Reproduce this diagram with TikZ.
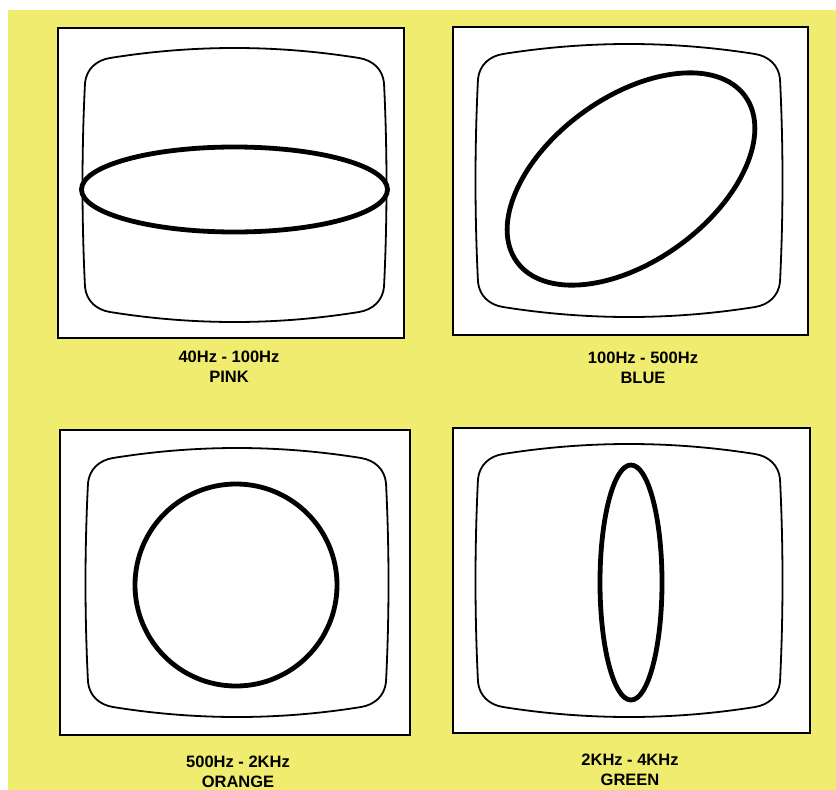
\documentclass[tikz,border=0pt]{standalone}
\usepackage{fontspec}
\setmainfont{Liberation Sans}
\definecolor{bgyellow}{RGB}{239,236,112}
\newcommand\crtscreen[4]{%
  \pgfmathsetmacro\Xl{#1-#3}\pgfmathsetmacro\Xr{#1+#3}%
  \pgfmathsetmacro\Yt{#2-#4}\pgfmathsetmacro\Yb{#2+#4}%
  \pgfmathsetmacro\bx{5}\pgfmathsetmacro\by{10}\pgfmathsetmacro\rr{25}\pgfmathsetmacro\kk{0.55*25}%
  \pgfmathsetmacro\xa{\Xl+\bx+\rr}\pgfmathsetmacro\xb{\Xr-\bx-\rr}%
  \pgfmathsetmacro\ya{\Yt+\by+\rr}\pgfmathsetmacro\yb{\Yb-\by-\rr}%
  \pgfmathsetmacro\Lt{\xb-\xa}\pgfmathsetmacro\Ls{\yb-\ya}%
  \pgfmathsetmacro\sx{\kk*4*\by/\Lt}\pgfmathsetmacro\sy{\kk*4*\bx/\Ls}%
  \draw[screen]
    (\xa,\Yt+\by) .. controls (\xa+\Lt/3,\Yt-\by/3) and (\xb-\Lt/3,\Yt-\by/3) .. (\xb,\Yt+\by)
    .. controls (\xb+\kk,\Yt+\by+\sx) and (\Xr-\bx-\sy,\ya-\kk) .. (\Xr-\bx,\ya)
    .. controls (\Xr-\bx/3,\ya+\Ls/3) and (\Xr-\bx/3,\yb-\Ls/3) .. (\Xr-\bx,\yb)
    .. controls (\Xr-\bx-\sy,\yb+\kk) and (\xb+\kk,\Yb-\by-\sx) .. (\xb,\Yb-\by)
    .. controls (\xb-\Lt/3,\Yb+\by/3) and (\xa+\Lt/3,\Yb+\by/3) .. (\xa,\Yb-\by)
    .. controls (\xa-\kk,\Yb-\by-\sx) and (\Xl+\bx+\sy,\yb+\kk) .. (\Xl+\bx,\yb)
    .. controls (\Xl+\bx/3,\yb-\Ls/3) and (\Xl+\bx/3,\ya+\Ls/3) .. (\Xl+\bx,\ya)
    .. controls (\Xl+\bx+\sy,\ya-\kk) and (\xa-\kk,\Yt+\by+\sx) .. cycle;%
}
\begin{document}
\begin{tikzpicture}[x=1pt,y=-1pt,
  panel/.style={draw=black, line width=2.4pt, fill=white},
  screen/.style={draw=black, line width=1.8pt},
  trace/.style={draw=black, line width=4.8pt},
  caption/.style={font=\bfseries\fontsize{16.5}{20}\selectfont, align=center, inner sep=0pt}]
\useasboundingbox (0,0) rectangle (836,790);
\fill[white] (0,0) rectangle (836,790);
\fill[bgyellow] (8,10) rectangle (836,790);

% panels
\draw[panel] (58,28) rectangle (404,338);
\draw[panel] (453,27) rectangle (808,335);
\draw[panel] (60,430) rectangle (410,735);
\draw[panel] (453,428) rectangle (810,733);

% screens
\crtscreen{234.5}{185}{154.5}{137}
\crtscreen{629}{180.5}{156}{136.5}
\crtscreen{237}{582.5}{154}{134.5}
\crtscreen{629}{580.5}{156}{136.5}

% traces
\draw[trace] (234.5,189.5) ellipse [x radius=153, y radius=42.5];
\draw[trace, rotate around={36:(631,179)}] (631,179) ellipse [x radius=141, y radius=82];
\draw[trace] (236,585) circle [radius=101];
\draw[trace] (631,582.5) ellipse [x radius=31, y radius=117.5];

% captions
\node[caption] (cap1) at (229,367) {40Hz - 100Hz\\PINK};
\node[caption] (cap2) at (643,368) {100Hz - 500Hz\\BLUE};
\node[caption] (cap3) at (238,772) {500Hz - 2KHz\\ORANGE};
\node[caption] (cap4) at (630,770) {2KHz - 4KHz\\GREEN};
\end{tikzpicture}
\end{document}
